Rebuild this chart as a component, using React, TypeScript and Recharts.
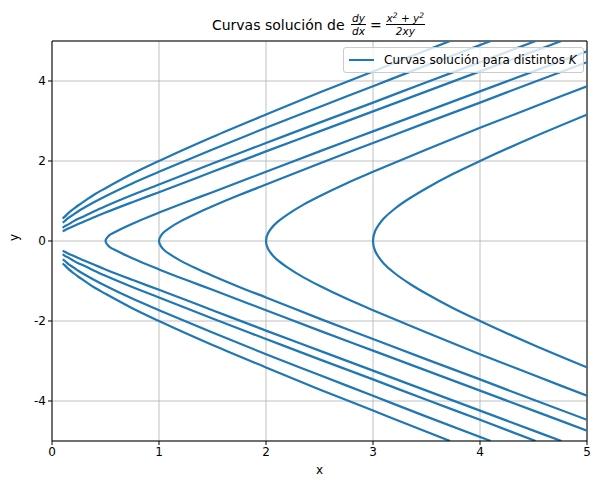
import React from "react";
import { CartesianGrid, Legend, Line, LineChart, ReferenceLine, XAxis, YAxis } from "recharts";

const blue = "#1f77b4";
const font = "DejaVu Sans, sans-serif";

// open curves (start near x=0.1), upper branch; lower branch is its mirror
const c3X = [0.1, 0.12, 0.15, 0.2, 0.25, 0.3, 0.4, 0.5, 0.75, 1, 1.5, 2, 2.5, 3, 3.5, 3.72];
const c3Y = [0.56, 0.61, 0.69, 0.8, 0.9, 0.99, 1.17, 1.32, 1.68, 2.0, 2.6, 3.16, 3.71, 4.24, 4.77, 5.0];
const c2X = [0.1, 0.12, 0.15, 0.2, 0.25, 0.3, 0.4, 0.5, 0.75, 1, 1.5, 2, 2.5, 3, 3.5, 4.1];
const c2Y = [0.46, 0.5, 0.57, 0.66, 0.75, 0.83, 0.98, 1.12, 1.44, 1.73, 2.29, 2.83, 3.35, 3.87, 4.39, 5.0];
const c1X = [0.1, 0.12, 0.15, 0.2, 0.25, 0.3, 0.4, 0.5, 0.75, 1, 1.5, 2, 2.5, 3, 3.5, 4, 4.52];
const c1Y = [0.33, 0.37, 0.41, 0.49, 0.56, 0.62, 0.75, 0.87, 1.15, 1.41, 1.94, 2.45, 2.96, 3.46, 3.97, 4.47, 5.0];
const c05X = [0.1, 0.12, 0.15, 0.2, 0.25, 0.3, 0.4, 0.5, 0.75, 1, 1.5, 2, 2.5, 3, 3.5, 4, 4.5, 4.76];
const c05Y = [0.24, 0.27, 0.31, 0.37, 0.43, 0.49, 0.6, 0.71, 0.97, 1.22, 1.73, 2.24, 2.74, 3.24, 3.74, 4.24, 4.74, 5.0];

// hyperbolas opening right, upper half from the vertex
const h05X = [0.5, 0.52, 0.55, 0.6, 0.7, 0.8, 1, 1.25, 1.5, 2, 2.5, 3, 3.5, 4, 4.5, 5];
const h05Y = [0, 0.1, 0.17, 0.24, 0.37, 0.49, 0.71, 0.97, 1.22, 1.73, 2.24, 2.74, 3.24, 3.74, 4.24, 4.74];
const h1X = [1, 1.02, 1.05, 1.1, 1.2, 1.35, 1.5, 1.75, 2, 2.5, 3, 3.5, 4, 4.5, 5];
const h1Y = [0, 0.14, 0.23, 0.33, 0.49, 0.69, 0.87, 1.15, 1.41, 1.94, 2.45, 2.96, 3.46, 3.97, 4.47];
const h2X = [2, 2.02, 2.05, 2.1, 2.2, 2.35, 2.5, 2.75, 3, 3.5, 4, 4.5, 5];
const h2Y = [0, 0.2, 0.32, 0.46, 0.66, 0.91, 1.12, 1.44, 1.73, 2.29, 2.83, 3.35, 3.87];
const h3X = [3, 3.02, 3.05, 3.1, 3.2, 3.35, 3.5, 3.75, 4, 4.5, 5];
const h3Y = [0, 0.25, 0.39, 0.56, 0.8, 1.08, 1.32, 1.68, 2.0, 2.6, 3.16];

const xTicks = [0, 1, 2, 3, 4, 5];
const yTicks = [-4, -2, 0, 2, 4];

type Pt = { x: number; y: number };

const branch = (xs: number[], ys: number[], sign: number): Pt[] =>
  xs.map((x, i) => ({ x, y: sign * ys[i] }));

// lower half reversed then upper half: ordered by y, so it can be smoothed along y
const hyperbola = (xs: number[], ys: number[]): Pt[] => [
  ...branch(xs, ys, -1).slice(1).reverse(),
  ...branch(xs, ys, 1)
];

const openCurves: Pt[][] = [
  branch(c3X, c3Y, 1),
  branch(c3X, c3Y, -1),
  branch(c2X, c2Y, 1),
  branch(c2X, c2Y, -1),
  branch(c1X, c1Y, 1),
  branch(c1X, c1Y, -1),
  branch(c05X, c05Y, 1),
  branch(c05X, c05Y, -1)
];

const closedCurves: Pt[][] = [
  hyperbola(h05X, h05Y),
  hyperbola(h1X, h1Y),
  hyperbola(h2X, h2Y),
  hyperbola(h3X, h3Y)
];

function Frac({ num, den }: { num: React.ReactNode; den: React.ReactNode }) {
  return (
    <span
      style={{
        display: "inline-flex",
        flexDirection: "column",
        alignItems: "center",
        fontStyle: "italic",
        fontSize: 10.5,
        lineHeight: "12px",
        margin: "0 2px",
        verticalAlign: "middle"
      }}
    >
      <span style={{ padding: "0 1px" }}>{num}</span>
      <span style={{ borderTop: "1px solid #000", padding: "0 1px", alignSelf: "stretch", textAlign: "center" }}>{den}</span>
    </span>
  );
}

function LegendBox() {
  return (
    <div
      style={{
        display: "flex",
        alignItems: "center",
        height: 24,
        padding: "0 6px 0 5px",
        background: "rgba(255,255,255,0.8)",
        border: "1px solid #cccccc",
        borderRadius: 3,
        fontFamily: font,
        fontSize: 12,
        color: "#000",
        whiteSpace: "nowrap"
      }}
    >
      <svg width={25} height={4} style={{ marginRight: 10 }}>
        <line x1={0} y1={2} x2={25} y2={2} stroke={blue} strokeWidth={2} />
      </svg>
      <span>
        Curvas solución para distintos <i>K</i>
      </span>
    </div>
  );
}

export default function App() {
  return (
    <div style={{ position: "absolute", left: 0, top: 0, width: 600, height: 486, background: "#fff" }}>
      <div
        style={{
          position: "absolute",
          left: 52,
          width: 535,
          top: 12,
          display: "flex",
          justifyContent: "center",
          alignItems: "center",
          fontFamily: font,
          fontSize: 14,
          color: "#000"
        }}
      >
        <span>Curvas solución de&nbsp;</span>
        <Frac num="dy" den="dx" />
        <span style={{ margin: "0 2px" }}>=</span>
        <Frac
          num={
            <>
              x<sup style={{ fontSize: 7.5, lineHeight: 0 }}>2</sup> + y<sup style={{ fontSize: 7.5, lineHeight: 0 }}>2</sup>
            </>
          }
          den="2xy"
        />
      </div>
      <LineChart width={600} height={486} margin={{ top: 41, right: 13, bottom: 0, left: 0 }}>
        <CartesianGrid stroke="#b0b0b0" strokeWidth={0.8} />
        <XAxis
          type="number"
          dataKey="x"
          domain={[0, 5]}
          ticks={xTicks}
          allowDataOverflow
          height={45}
          tickSize={4}
          tick={{ fill: "#000", fontSize: 12, fontFamily: font }}
          stroke="#000"
          label={{ value: "x", position: "insideBottom", offset: 12, fill: "#000", fontSize: 12, fontFamily: font }}
        />
        <YAxis
          type="number"
          dataKey="y"
          domain={[-5, 5]}
          ticks={yTicks}
          allowDataOverflow
          width={52}
          tickSize={4}
          tick={{ fill: "#000", fontSize: 12, fontFamily: font }}
          stroke="#000"
          label={{ value: "y", angle: -90, position: "insideLeft", offset: 14, fill: "#000", fontSize: 12, fontFamily: font }}
        />
        <ReferenceLine y={5} stroke="#000" />
        <ReferenceLine x={5} stroke="#000" />
        {openCurves.map((data, i) => (
          <Line
            key={`o${i}`}
            data={data}
            dataKey="y"
            type="monotoneX"
            stroke={blue}
            strokeWidth={2.2}
            dot={false}
            activeDot={false}
            isAnimationActive={false}
            legendType="none"
          />
        ))}
        {closedCurves.map((data, i) => (
          <Line
            key={`c${i}`}
            data={data}
            dataKey="y"
            type="monotoneY"
            stroke={blue}
            strokeWidth={2.2}
            dot={false}
            activeDot={false}
            isAnimationActive={false}
            legendType="none"
          />
        ))}
        <Legend
          layout="horizontal"
          align="center"
          verticalAlign="middle"
          content={() => <LegendBox />}
          wrapperStyle={{ position: "absolute", left: 343, top: 47, width: "auto" }}
        />
      </LineChart>
    </div>
  );
}
